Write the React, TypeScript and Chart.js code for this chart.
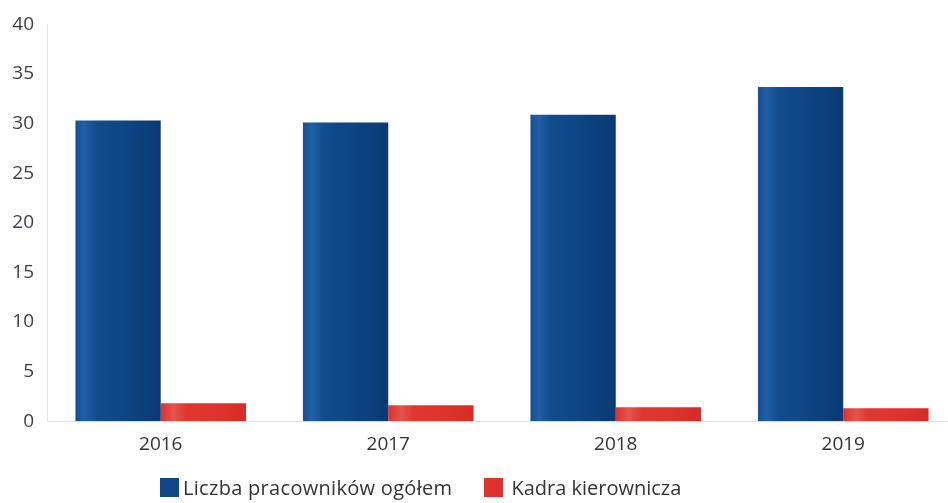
import React, { useEffect, useRef } from "react";
import { Chart, registerables } from "chart.js";

Chart.register(...registerables);

const years = ["2016", "2017", "2018", "2019"];
const totalStaff = [30.3, 30.1, 30.9, 33.7];
const managers = [1.8, 1.6, 1.4, 1.3];
const seriesNames = ["Liczba pracowników ogółem", "Kadra kierownicza"];
const yTicks = [0, 5, 10, 15, 20, 25, 30, 35, 40];

const FONT = "'Open Sans', 'Noto Sans', sans-serif";
const BLUE = "#0f4788";
const RED = "#e0322c";

function makeGradient(chart: any, dataIndex: number, side: number, stops: [number, string][], fallback: string) {
  const xs = chart.scales && chart.scales.x;
  if (!chart.chartArea || !xs || typeof xs.getPixelForValue !== "function") return fallback;
  const c = xs.getPixelForValue(dataIndex);
  const w = (xs.width / years.length) * 0.375;
  const left = side === 0 ? c - w : c;
  const right = side === 0 ? c : c + w;
  if (!isFinite(left) || !isFinite(right)) return fallback;
  const g = chart.ctx.createLinearGradient(left, 0, right, 0);
  stops.forEach(([o, col]) => g.addColorStop(o, col));
  return g;
}

const blueStops: [number, string][] = [
  [0, "#164f91"],
  [0.1, "#2060a6"],
  [0.25, "#114c8d"],
  [0.6, "#0d4484"],
  [1, "#0b3a74"],
];
const redStops: [number, string][] = [
  [0, "#dc312b"],
  [0.15, "#e6544e"],
  [0.3, "#e1362f"],
  [0.7, "#e0322c"],
  [1, "#d62b26"],
];

export default function App() {
  const ref = useRef<HTMLCanvasElement | null>(null);

  useEffect(() => {
    if (!ref.current) return;
    const chart = new Chart(ref.current, {
      type: "bar",
      data: {
        labels: years,
        datasets: [
          {
            label: seriesNames[0],
            data: totalStaff,
            backgroundColor: (ctx: any) => makeGradient(ctx.chart, ctx.dataIndex, 0, blueStops, BLUE),
            borderWidth: 0,
            categoryPercentage: 0.75,
            barPercentage: 1,
          },
          {
            label: seriesNames[1],
            data: managers,
            backgroundColor: (ctx: any) => makeGradient(ctx.chart, ctx.dataIndex, 1, redStops, RED),
            borderWidth: 0,
            categoryPercentage: 0.75,
            barPercentage: 1,
          },
        ],
      },
      options: {
        responsive: false,
        animation: false,
        devicePixelRatio: 1,
        layout: { padding: { top: 11, right: 3, bottom: 8, left: 0 } },
        plugins: {
          legend: { display: false },
          tooltip: { enabled: false },
        },
        scales: {
          x: {
            grid: { display: false, drawTicks: false },
            border: { display: true, color: "#e3e3e3", width: 1 },
            ticks: {
              color: "#333333",
              font: { family: FONT, size: 19 },
              padding: 12,
            },
          },
          y: {
            min: 0,
            max: 40,
            afterBuildTicks: (scale: any) => {
              scale.ticks = yTicks.map((v) => ({ value: v }));
            },
            afterFit: (scale: any) => {
              scale.width = 47;
            },
            grid: { display: false, drawTicks: false },
            border: { display: true, color: "#e3e3e3", width: 1 },
            ticks: {
              color: "#3d3d4a",
              font: { family: FONT, size: 19 },
              padding: 13,
            },
          },
        },
      },
    });
    return () => chart.destroy();
  }, []);

  return (
    <div style={{ position: "absolute", left: 0, top: 0, width: 948, height: 503, overflow: "hidden", background: "#fff" }}>
      <canvas ref={ref} width={960} height={476} style={{ position: "absolute", left: 0, top: 0 }} />
      <div
        style={{
          position: "absolute",
          left: 160,
          top: 474,
          display: "flex",
          alignItems: "center",
          fontFamily: FONT,
          fontSize: 20,
          color: "#333333",
          whiteSpace: "nowrap",
        }}
      >
        <span style={{ display: "inline-block", width: 19, height: 19, background: BLUE, marginRight: 4 }} />
        <span style={{ marginRight: 32, letterSpacing: 0.3 }}>{seriesNames[0]}</span>
        <span style={{ display: "inline-block", width: 19, height: 19, background: RED, marginRight: 8 }} />
        <span>{seriesNames[1]}</span>
      </div>
    </div>
  );
}
